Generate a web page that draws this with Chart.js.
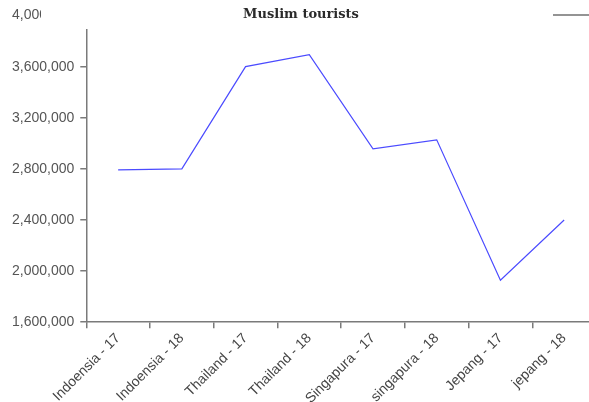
<!DOCTYPE html>
<html lang="en">
<head>
    <meta charset="UTF-8">
    <title>Muslim tourists</title>
    <script src="https://cdn.jsdelivr.net/npm/chart.js"></script>
    <style>
        html, body {
            margin: 0;
            padding: 0;
            background: #fff;
            overflow: hidden;
        }
        .chart-box {
            position: relative;
            width: 600px;
            height: 402px;
        }
    </style>
</head>
<body>
    <div class="chart-box">
        <canvas id="tourChart"></canvas>
    </div>

    <script>
        const categories = ['Indoensia - 17', 'Indoensia - 18', 'Thailand - 17', 'Thailand - 18',
                            'Singapura - 17', 'singapura - 18', 'Jepang - 17', 'jepang - 18'];
        const tourists = [2792000, 2800000, 3600000, 3694000, 2957000, 3027000, 1929000, 2400000];
        const yTicks = [1600000, 2000000, 2400000, 2800000, 3200000, 3600000, 4000000];

        const axisColor = '#7a7a7a';
        const labelFont = { family: "'Liberation Sans', Arial, sans-serif", size: 14 };

        // the grey legend stroke at the top right and the clipped top label
        const extras = {
            id: 'extras',
            afterDraw(chart) {
                const ctx = chart.ctx;
                ctx.save();
                ctx.fillStyle = '#fff';
                ctx.fillRect(41, 4, 44, 24);
                ctx.strokeStyle = '#707070';
                ctx.lineWidth = 1.5;
                ctx.beginPath();
                ctx.moveTo(553, 15);
                ctx.lineTo(600, 15);
                ctx.stroke();
                ctx.restore();
            }
        };

        new Chart(document.getElementById('tourChart'), {
            type: 'line',
            data: {
                labels: categories,
                datasets: [{
                    label: '',
                    data: tourists,
                    borderColor: '#4b4bff',
                    borderWidth: 1.2,
                    pointRadius: 0,
                    tension: 0,
                    fill: false
                }]
            },
            options: {
                responsive: true,
                maintainAspectRatio: false,
                animation: false,
                layout: { padding: { left: 6, right: 4, top: 0, bottom: -7 } },
                plugins: {
                    legend: { display: false },
                    tooltip: { enabled: false },
                    title: {
                        display: true,
                        text: 'Muslim tourists',
                        color: '#2a2a2a',
                        font: { family: "'DejaVu Serif', 'Liberation Serif', serif", size: 13, weight: 'bold' },
                        padding: { top: 7, bottom: 7 }
                    }
                },
                scales: {
                    x: {
                        offset: true,
                        grid: {
                            offset: true,
                            drawOnChartArea: false,
                            color: axisColor,
                            tickLength: 6,
                            lineWidth: 1.5
                        },
                        border: { color: axisColor, width: 1.5 },
                        ticks: {
                            color: '#444',
                            font: labelFont,
                            minRotation: 45,
                            maxRotation: 45,
                            padding: 2
                        }
                    },
                    y: {
                        min: 1600000,
                        max: 3890000,
                        afterBuildTicks(scale) {
                            scale.ticks = yTicks.map(v => ({ value: v }));
                        },
                        grid: {
                            drawOnChartArea: false,
                            color: axisColor,
                            tickColor: ctx => (ctx.tick && ctx.tick.value > 3890000) ? 'rgba(0,0,0,0)' : axisColor,
                            tickLength: 6,
                            lineWidth: 1.5
                        },
                        border: { color: axisColor, width: 1.5 },
                        ticks: {
                            color: '#555',
                            font: labelFont,
                            padding: 6,
                            callback: v => v.toLocaleString('en-US')
                        }
                    }
                }
            },
            plugins: [extras]
        });
    </script>
</body>
</html>
